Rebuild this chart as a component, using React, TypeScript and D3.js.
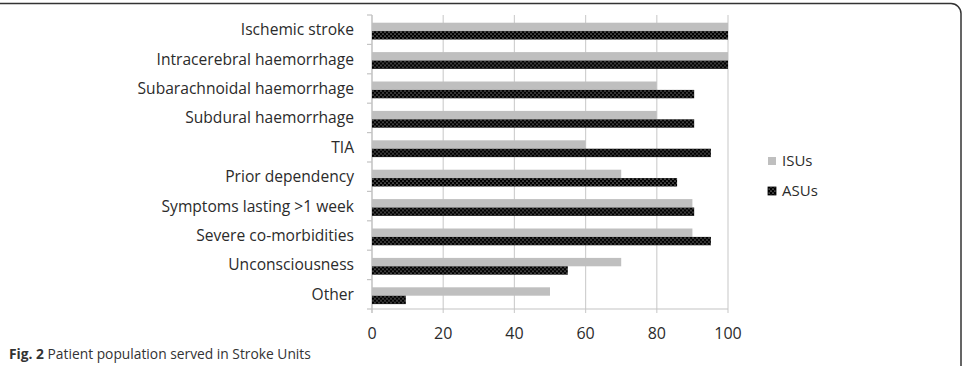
import React from 'react';
import * as d3 from 'd3';

const categories = [
  'Ischemic stroke',
  'Intracerebral haemorrhage',
  'Subarachnoidal haemorrhage',
  'Subdural haemorrhage',
  'TIA',
  'Prior dependency',
  'Symptoms lasting >1 week',
  'Severe co-morbidities',
  'Unconsciousness',
  'Other',
];
const seriesNames = ['ISUs', 'ASUs'];
const isuValues = [100, 100, 80, 80, 60, 70, 90, 90, 70, 50];
const asuValues = [100, 100, 90.5, 90.5, 95.2, 85.7, 90.5, 95.2, 55, 9.5];
const xTicks = [0, 20, 40, 60, 80, 100];

const W = 963;
const H = 366;
const FONT = '"Open Sans", sans-serif';

const App: React.FC = () => {
  const x = d3.scaleLinear().domain([0, 100]).range([372, 728]);
  const y = d3.scaleBand<string>().domain(categories).range([15, 309]);
  const inner = d3.scaleBand<string>().domain(seriesNames).range([7.7, 24.5]);
  const bw = inner.bandwidth();
  const [plotTop, plotBottom] = y.range();

  return (
    <svg width={W} height={H} style={{ position: 'absolute', left: 0, top: 0, background: '#fff' }}>
      <defs>
        <pattern id="asuPat" width={4} height={4} patternUnits="userSpaceOnUse">
          <rect width={4} height={4} fill="#000" />
          <circle cx={1} cy={1} r={0.6} fill="#fff" />
          <circle cx={3} cy={3} r={0.6} fill="#fff" />
        </pattern>
      </defs>

      {/* frame */}
      <path d={`M0,3.5 H951 A10,10 0 0 1 961,13.5 V${H}`} fill="none" stroke="#333" strokeWidth={1.5} />

      {/* gridlines + bottom ticks */}
      {xTicks.map((t) => (
        <line key={t} x1={x(t)} x2={x(t)} y1={plotTop} y2={plotBottom + 4}
          stroke="#d0d0d0" strokeWidth={1.2} />
      ))}
      <line x1={x(0)} x2={x(100)} y1={plotBottom} y2={plotBottom} stroke="#c4c4c4" strokeWidth={1.2} />
      <line x1={x(0)} x2={x(0)} y1={plotTop} y2={plotBottom + 4} stroke="#c4c4c4" strokeWidth={1.2} />
      {d3.range(categories.length + 1).map((i) => {
        const yy = plotTop + i * y.step();
        return <line key={i} x1={x(0) - 5} x2={x(0)} y1={yy} y2={yy} stroke="#c4c4c4" strokeWidth={1.2} />;
      })}

      {/* bars */}
      {categories.map((c, i) => (
        <g key={c} transform={`translate(0,${y(c)})`}>
          <rect x={x(0)} y={inner('ISUs')} width={x(isuValues[i]) - x(0)} height={bw} fill="#bfbfbf" />
          <rect x={x(0)} y={inner('ASUs')} width={x(asuValues[i]) - x(0)} height={bw} fill="url(#asuPat)" />
        </g>
      ))}

      {/* category labels */}
      {categories.map((c) => (
        <text key={c} x={354} y={(y(c) ?? 0) + y.bandwidth() / 2} dy="0.35em" textAnchor="end"
          fontFamily={FONT} fontSize={15.6} fill="#2b2b2b">{c}</text>
      ))}

      {/* x tick labels */}
      {xTicks.map((t) => (
        <text key={t} x={x(t)} y={339} textAnchor="middle" fontFamily={FONT} fontSize={16} fill="#2b2b2b">{t}</text>
      ))}

      {/* legend */}
      <rect x={768} y={157} width={8} height={8} fill="#bfbfbf" />
      <text x={782} y={166} fontFamily={FONT} fontSize={15} fill="#2b2b2b">ISUs</text>
      <rect x={768} y={187} width={8} height={8} fill="url(#asuPat)" stroke="#000" strokeWidth={0.8} />
      <text x={782} y={196} fontFamily={FONT} fontSize={15} fill="#2b2b2b">ASUs</text>

      {/* caption */}
      <text x={9} y={359} fontFamily={FONT} fontSize={13.8} fill="#333">
        <tspan fontWeight="bold">Fig. 2</tspan> Patient population served in Stroke Units
      </text>
    </svg>
  );
};

export default App;
